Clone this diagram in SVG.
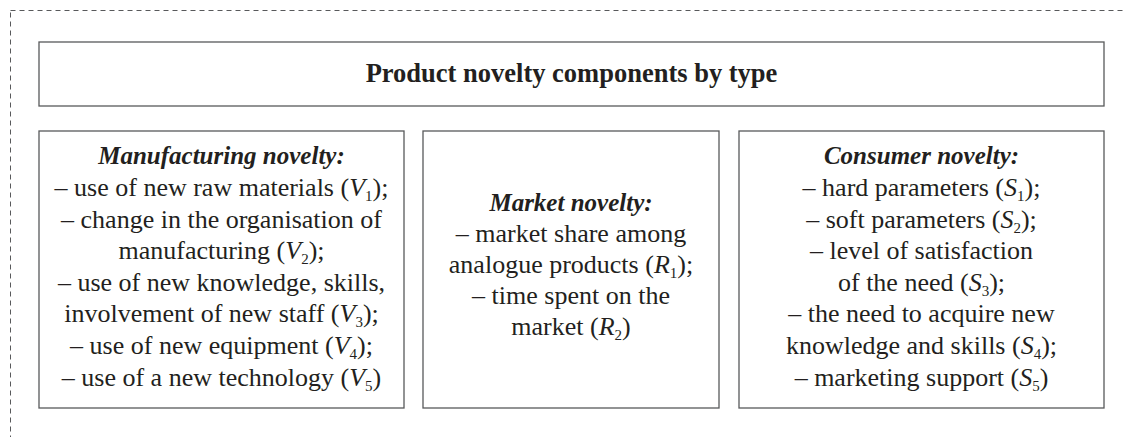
<svg xmlns="http://www.w3.org/2000/svg" width="1123" height="437" viewBox="0 0 1123 437">
<style>
.frame{fill:none;stroke:#58595b;stroke-width:1;stroke-dasharray:5 4}
.box{fill:#fff;stroke:#58595b;stroke-width:1.3}
text{font-family:"Liberation Serif","Times New Roman",serif;fill:#231f20;text-anchor:middle}
.t{font-size:26.5px;font-weight:bold}
.h{font-size:25px;font-weight:bold;font-style:italic}
.b{font-size:26px}
.i{font-style:italic}
.s{font-size:15px}
</style>
<rect class="frame" x="10.5" y="10.5" width="1200" height="500"/>
<g id="title">
<rect class="box" x="39" y="42" width="1065" height="64"/>
<text class="t" x="571.5" y="82">Product novelty components by type</text>
</g>
<g id="manufacturing">
<rect class="box" x="39" y="131" width="365" height="277"/>
<text class="h" x="221.5" y="164">Manufacturing novelty:</text>
<text class="b" x="221.5" y="196">– use of new raw materials (<tspan class="i">V</tspan><tspan class="s" dy="5">1</tspan><tspan dy="-5">);</tspan></text>
<text class="b" x="221.5" y="228">– change in the organisation of</text>
<text class="b" x="221.5" y="259">manufacturing (<tspan class="i">V</tspan><tspan class="s" dy="5">2</tspan><tspan dy="-5">);</tspan></text>
<text class="b" x="221.5" y="291">– use of new knowledge, skills,</text>
<text class="b" x="221.5" y="322">involvement of new staff (<tspan class="i">V</tspan><tspan class="s" dy="5">3</tspan><tspan dy="-5">);</tspan></text>
<text class="b" x="221.5" y="354">– use of new equipment (<tspan class="i">V</tspan><tspan class="s" dy="5">4</tspan><tspan dy="-5">);</tspan></text>
<text class="b" x="221.5" y="386">– use of a new technology (<tspan class="i">V</tspan><tspan class="s" dy="5">5</tspan><tspan dy="-5">)</tspan></text>
</g>
<g id="market">
<rect class="box" x="423" y="131" width="296" height="277"/>
<text class="h" x="571" y="211">Market novelty:</text>
<text class="b" x="571" y="242">– market share among</text>
<text class="b" x="571" y="273">analogue products (<tspan class="i">R</tspan><tspan class="s" dy="5">1</tspan><tspan dy="-5">);</tspan></text>
<text class="b" x="571" y="304">– time spent on the</text>
<text class="b" x="571" y="335">market (<tspan class="i">R</tspan><tspan class="s" dy="5">2</tspan><tspan dy="-5">)</tspan></text>
</g>
<g id="consumer">
<rect class="box" x="739" y="131" width="365" height="277"/>
<text class="h" x="921.5" y="164">Consumer novelty:</text>
<text class="b" x="921.5" y="196">– hard parameters (<tspan class="i">S</tspan><tspan class="s" dy="5">1</tspan><tspan dy="-5">);</tspan></text>
<text class="b" x="921.5" y="228">– soft parameters (<tspan class="i">S</tspan><tspan class="s" dy="5">2</tspan><tspan dy="-5">);</tspan></text>
<text class="b" x="921.5" y="259">– level of satisfaction</text>
<text class="b" x="921.5" y="291">of the need (<tspan class="i">S</tspan><tspan class="s" dy="5">3</tspan><tspan dy="-5">);</tspan></text>
<text class="b" x="921.5" y="322">– the need to acquire new</text>
<text class="b" x="921.5" y="354">knowledge and skills (<tspan class="i">S</tspan><tspan class="s" dy="5">4</tspan><tspan dy="-5">);</tspan></text>
<text class="b" x="921.5" y="386">– marketing support (<tspan class="i">S</tspan><tspan class="s" dy="5">5</tspan><tspan dy="-5">)</tspan></text>
</g>
<g id="connectors"></g>
</svg>
